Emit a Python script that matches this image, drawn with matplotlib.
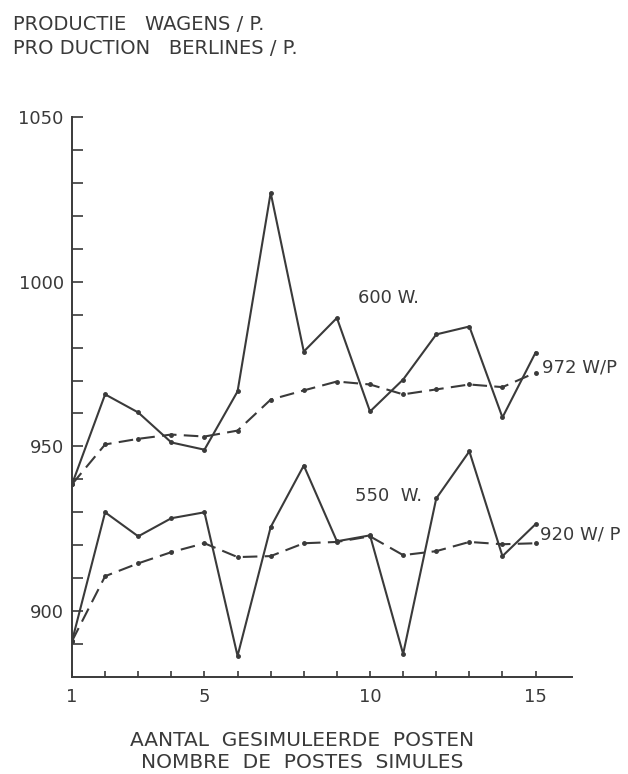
import numpy as np
import matplotlib
matplotlib.use("Agg")
from matplotlib import pyplot as plt

posts = np.arange(1, 16)

w600 = [938.5, 965.8, 960.3, 951.2, 949.0, 966.7, 1027.0, 978.8, 989.0,
        960.6, 970.3, 984.0, 986.4, 958.8, 978.5]
w600_mean = [938.5, 950.6, 952.3, 953.6, 953.0, 954.8, 964.2, 967.0, 969.7,
             968.8, 965.8, 967.3, 968.8, 968.0, 972.4]

w550 = [890.9, 930.0, 922.7, 928.2, 930.0, 886.4, 925.5, 944.2, 921.2,
        923.0, 887.0, 934.2, 948.5, 916.7, 926.4]
w550_mean = [890.9, 910.6, 914.5, 917.9, 920.6, 916.4, 916.7, 920.6, 921.0,
             922.7, 917.0, 918.2, 921.0, 920.3, 920.6]

yticks_major = [900, 950, 1000, 1050]
xticks_major = [1, 5, 10, 15]

ink = "#3a3a3a"
plt.rcParams["font.family"] = ["DejaVu Sans"]

fig = plt.figure(figsize=(6.28, 7.74), dpi=100)
ax = fig.add_axes([72 / 628, 97 / 774, 500 / 628, 560 / 774])

dash = (0, (7, 3.5))
ax.plot(posts, w600, color=ink, lw=1.5, marker="o", ms=2.5)
ax.plot(posts, w600_mean, color=ink, lw=1.5, ls=dash, marker="o", ms=2.5)
ax.plot(posts, w550, color=ink, lw=1.5, marker="o", ms=2.5)
ax.plot(posts, w550_mean, color=ink, lw=1.5, ls=dash, marker="o", ms=2.5)

ax.set_xlim(1, 16.1)
ax.set_ylim(880, 1050)
ax.spines["top"].set_visible(False)
ax.spines["right"].set_visible(False)
for s in ("left", "bottom"):
    ax.spines[s].set_color(ink)
    ax.spines[s].set_linewidth(1.4)

ax.set_yticks(yticks_major)
ax.set_yticks(np.arange(890, 1050, 10), minor=True)
ax.set_xticks(xticks_major)
ax.set_xticks(posts, minor=True)
ax.tick_params(axis="y", which="both", direction="in", length=8, width=1.2,
               color=ink, labelsize=13, labelcolor=ink, pad=6)
ax.tick_params(axis="x", which="both", direction="in", length=4, width=1.2,
               color=ink, labelsize=13, labelcolor=ink, pad=8)

ax.text(9.64, 995, "600 W.", fontsize=13, color=ink, va="center")
ax.text(9.55, 934.8, "550  W.", fontsize=13, color=ink, va="center")
ax.text(15.2, 974, "972 W/P", fontsize=13, color=ink, va="center")
ax.text(15.14, 923.3, "920 W/ P", fontsize=13, color=ink, va="center")

fig.text(13 / 628, 1 - 25 / 774, "PRODUCTIE   WAGENS / P.", fontsize=14,
         color=ink, va="center")
fig.text(13 / 628, 1 - 48 / 774, "PRO DUCTION   BERLINES / P.", fontsize=14,
         color=ink, va="center")
fig.text(302 / 628, 1 - 740 / 774, "AANTAL  GESIMULEERDE  POSTEN", fontsize=14.5,
         color=ink, va="center", ha="center")
fig.text(302 / 628, 1 - 763 / 774, "NOMBRE  DE  POSTES  SIMULES", fontsize=14.5,
         color=ink, va="center", ha="center")

fig.savefig("out.png", dpi=100)
